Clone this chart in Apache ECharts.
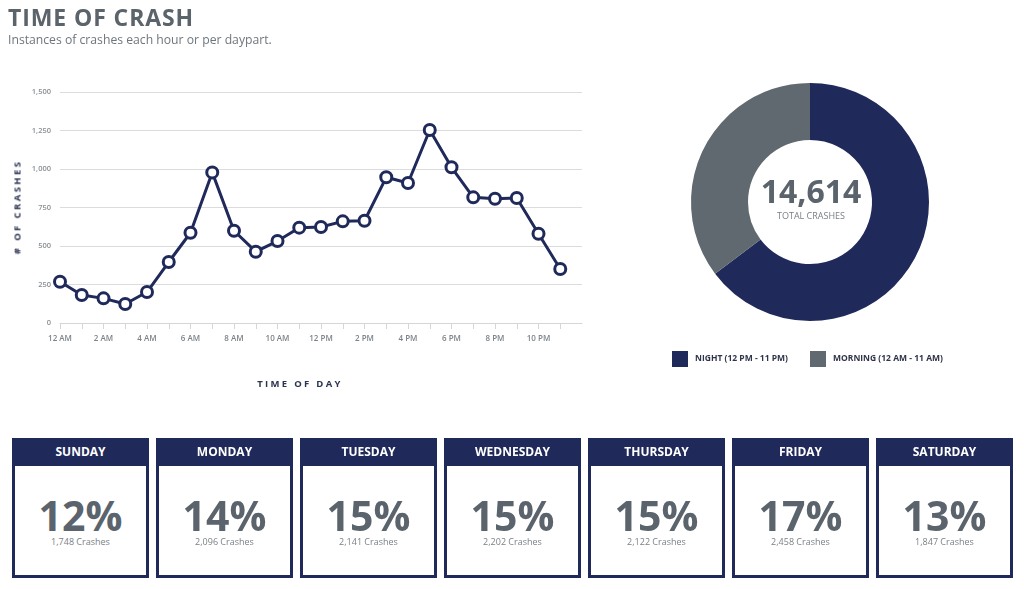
<!DOCTYPE html>
<html>
<head>
<meta charset="utf-8">
<script src="https://cdn.jsdelivr.net/npm/echarts@6/dist/echarts.min.js"></script>
<style>
  html, body { margin: 0; padding: 0; background: #fff; }
  body { width: 1024px; height: 589px; position: relative; overflow: hidden; font-family: "Open Sans", sans-serif; }
  #chart { position: absolute; left: 0; top: 0; width: 1024px; height: 589px; }
  .title { position: absolute; left: 8px; top: 1px; font-size: 23px; font-weight: 700; color: #5b636b; letter-spacing: 0.9px; }
  .sub { position: absolute; left: 8px; top: 31px; font-size: 12.2px; color: #6e767d; }
  .yname { position: absolute; top: 207px; left: 17px; transform: translate(-50%, -50%) rotate(-90deg); transform-origin: center; white-space: nowrap;
           font-size: 9.5px; font-weight: 700; color: #2a3350; letter-spacing: 2.4px; }
  .xname { position: absolute; left: 300px; top: 383px; transform: translate(-50%, -50%); white-space: nowrap;
           font-size: 9.5px; font-weight: 700; color: #2a3350; letter-spacing: 2.3px; }
  .card { position: absolute; top: 438px; width: 137px; height: 140px; box-sizing: border-box; border: 3px solid #1f2a5a; background: #fff; }
  .card .hd { position: absolute; left: -3px; top: -3px; width: 137px; height: 28px; background: #1f2a5a; color: #fff; font-weight: 700; font-size: 12px; text-align: center; line-height: 28px; }
  .card .pct { position: absolute; left: 0; right: 0; top: 50px; text-align: center; font-size: 41px; font-weight: 700; color: #5b646c; line-height: 48px; }
  .card .cnt { position: absolute; left: 0; right: 0; top: 95px; text-align: center; font-size: 9px; color: #7a8186; line-height: 12px; }
</style>
</head>
<body>
<div id="chart"></div>
<div class="title">TIME OF CRASH</div>
<div class="sub">Instances of crashes each hour or per daypart.</div>
<div class="yname"># OF CRASHES</div>
<div class="xname">TIME OF DAY</div>
<div id="cards"></div>
<script>
// ---- data ----
const hours = ["12 AM","1 AM","2 AM","3 AM","4 AM","5 AM","6 AM","7 AM","8 AM","9 AM","10 AM","11 AM",
               "12 PM","1 PM","2 PM","3 PM","4 PM","5 PM","6 PM","7 PM","8 PM","9 PM","10 PM","11 PM"];
const crashesPerHour = [268, 182, 160, 123, 201, 396, 586, 978, 599, 463, 532, 619,
                        623, 660, 664, 946, 909, 1253, 1011, 816, 807, 812, 580, 351];
const yTicks = [0, 250, 500, 750, 1000, 1250, 1500];
const daypartNames = ["NIGHT (12 PM - 11 PM)", "MORNING (12 AM - 11 AM)"];
const daypartValues = [9455, 5159];
const totalCrashes = 14614;
const totalLabel = "TOTAL CRASHES";
const days = ["SUNDAY","MONDAY","TUESDAY","WEDNESDAY","THURSDAY","FRIDAY","SATURDAY"];
const dayPct = [12, 14, 15, 15, 15, 17, 13];
const dayCrashes = [1748, 2096, 2141, 2202, 2122, 2458, 1847];

// ---- cards ----
const cardsEl = document.getElementById('cards');
days.forEach((d, i) => {
  const c = document.createElement('div');
  c.className = 'card';
  c.style.left = (12 + 144 * i) + 'px';
  c.innerHTML = '<div class="hd">' + d + '</div><div class="pct">' + dayPct[i] + '%</div><div class="cnt">' +
    dayCrashes[i].toLocaleString('en-US') + ' Crashes</div>';
  cardsEl.appendChild(c);
});

// ---- chart ----
const NAVY = '#1f2a5a', GRAY = '#5f696f';
const cats = hours.concat(['']);
const chart = echarts.init(document.getElementById('chart'), null, { renderer: 'canvas' });
chart.setOption({
  animation: false,
  textStyle: { fontFamily: 'Open Sans' },
  grid: { left: 60, right: 442, top: 92, bottom: 266 },
  xAxis: {
    type: 'category', data: cats, boundaryGap: false,
    axisLine: { lineStyle: { color: '#d6d6d6', width: 1 } },
    axisTick: { length: 6, lineStyle: { color: '#d6d6d6' }, interval: (i) => i < 24 },
    axisLabel: { interval: (i) => i % 2 === 0 && i < 24, color: '#7d8388', fontSize: 8, fontWeight: 600, margin: 12 },
    splitLine: { show: false }
  },
  yAxis: {
    type: 'value', min: yTicks[0], max: yTicks[yTicks.length - 1], interval: yTicks[1] - yTicks[0],
    axisLine: { show: false }, axisTick: { show: false },
    axisLabel: { color: '#8a9094', fontSize: 7.5, fontWeight: 600, margin: 9,
      formatter: (v) => v.toLocaleString('en-US') },
    splitLine: { lineStyle: { color: '#dcdcdc', width: 1 } }
  },
  legend: {
    left: 672, top: 351, padding: 0, itemWidth: 16, itemHeight: 16, itemGap: 22, icon: 'rect',
    data: daypartNames,
    textStyle: { color: '#2e3548', fontSize: 8.5, fontWeight: 700, padding: [0, 0, 0, 2] }
  },
  series: [
    {
      type: 'line', data: crashesPerHour,
      lineStyle: { color: NAVY, width: 3 },
      symbol: 'circle', symbolSize: 11,
      itemStyle: { color: '#fff', borderColor: NAVY, borderWidth: 3 },
      z: 3
    },
    {
      type: 'pie', center: [810, 202], radius: [62, 119], startAngle: 90, clockwise: true,
      label: { show: false }, labelLine: { show: false }, silent: true,
      data: daypartNames.map((n, i) => ({ name: n, value: daypartValues[i], itemStyle: { color: i === 0 ? NAVY : GRAY } }))
    }
  ],
  graphic: [
    { type: 'text', x: 811, y: 194, style: { text: totalCrashes.toLocaleString('en-US'), fill: '#5b646c', font: '700 32px "Open Sans"', align: 'center', verticalAlign: 'middle' } },
    { type: 'text', x: 811, y: 216, style: { text: totalLabel, fill: '#7a8186', font: '400 9px "Open Sans"', align: 'center', verticalAlign: 'middle' } }
  ]
});
</script>
</body>
</html>
